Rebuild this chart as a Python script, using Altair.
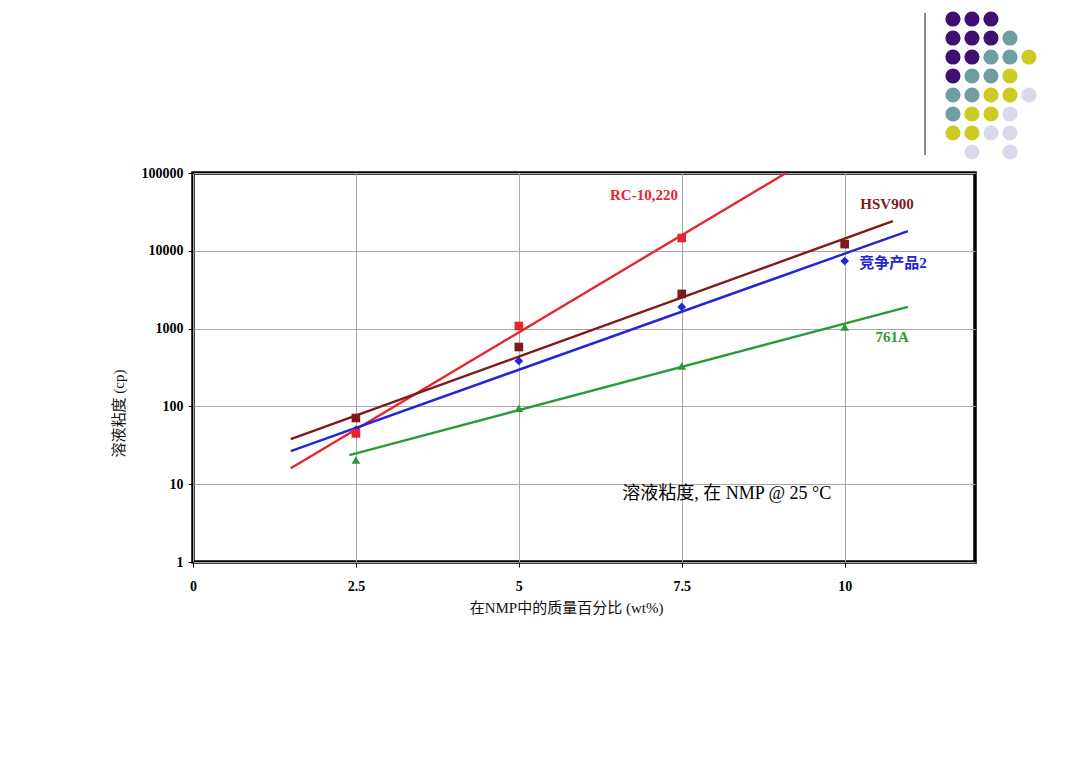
import altair as alt
import pandas as pd

# ---- data ----
x_pts = [2.5, 5, 7.5, 10]
rc_vals = [45, 1080, 14600]
hsv_vals = [71, 580, 2790, 12200]
comp_vals = [50, 384, 1900, 7400]
a761_vals = [20.5, 95, 330, 1050]

series_names = ["RC-10,220", "HSV900", "竞争产品2", "761A"]
series_colors = ["#E62630", "#7E1A1A", "#2424D8", "#2A9A34"]
series_shapes = ["square", "square", "diamond", "triangle-up"]

# fitted trend lines (start / end)
fit_x_start = [1.5, 1.5, 1.5, 2.4]
fit_x_end = [9.1, 10.74, 10.97, 10.97]
fit_y_start = [16, 38, 26.7, 23.7]
fit_y_end = [100000, 24100, 17900, 1900]

label_x = [6.92, 10.65, 10.74, 10.73]
label_y = [52100, 40000, 6970, 780]

note_text = ["溶液粘度, 在 NMP @ 25 °C"]
note_x = [8.19]
note_y = [7.5]

x_ticks = [0, 2.5, 5, 7.5, 10]
y_ticks = [1, 10, 100, 1000, 10000, 100000]

# decorative dot grid (top right)
dot_rows = [1, 1, 1,
            2, 2, 2, 2,
            3, 3, 3, 3, 3,
            4, 4, 4, 4,
            5, 5, 5, 5, 5,
            6, 6, 6, 6,
            7, 7, 7, 7,
            8, 8]
dot_cols = [1, 2, 3,
            1, 2, 3, 4,
            1, 2, 3, 4, 5,
            1, 2, 3, 4,
            1, 2, 3, 4, 5,
            1, 2, 3, 4,
            1, 2, 3, 4,
            2, 4]
dot_groups = ["P", "P", "P",
              "P", "P", "P", "T",
              "P", "P", "T", "T", "Y",
              "P", "T", "T", "Y",
              "T", "T", "Y", "Y", "L",
              "T", "Y", "Y", "L",
              "Y", "Y", "L", "L",
              "L", "L"]
dot_group_names = ["P", "T", "Y", "L"]
dot_group_colors = ["#3E1070", "#6E9E9F", "#CBCB24", "#D9D9EC"]

# ---- tables ----
pts_rows = []
for name, vals in [("竞争产品2", comp_vals), ("761A", a761_vals),
                   ("RC-10,220", rc_vals), ("HSV900", hsv_vals)]:
    for xv, yv in zip(x_pts, vals):
        pts_rows.append({"series": name, "x": xv, "y": yv})
pts_df = pd.DataFrame(pts_rows)

fit_rows = []
for i, name in enumerate(series_names):
    fit_rows.append({"series": name, "x": fit_x_start[i], "y": fit_y_start[i], "o": 0})
    fit_rows.append({"series": name, "x": fit_x_end[i], "y": fit_y_end[i], "o": 1})
fit_df = pd.DataFrame(fit_rows)

lab_df = pd.DataFrame({"series": series_names, "x": label_x, "y": label_y})
note_df = pd.DataFrame({"t": note_text, "x": note_x, "y": note_y})
dots_df = pd.DataFrame({"row": dot_rows, "col": dot_cols, "g": dot_groups})
vline_df = pd.DataFrame({"col": [-0.47], "r1": [0.68], "r2": [8.16]})

serif = "Liberation Serif, Noto Sans CJK SC"

xscale = alt.Scale(domain=[0, 12], nice=False, zero=False)
yscale = alt.Scale(type="log", domain=[1, 100000], nice=False)
cscale = alt.Scale(domain=series_names, range=series_colors)

xaxis = alt.Axis(values=x_ticks, format="~g", title="在NMP中的质量百分比 (wt%)",
                 grid=True, labelPadding=12, labelFlush=False,
                 titleX=373, titleY=45,
                 titleBaseline="middle", titleAlign="center")
yaxis = alt.Axis(values=y_ticks, format="d", title="溶液粘度 (cp)", grid=True,
                 labelPadding=5, labelFlush=False,
                 titleX=-75, titleY=240, titleAngle=270,
                 titleBaseline="middle", titleAlign="center")

lines = alt.Chart(fit_df).mark_line(strokeWidth=2.4).encode(
    x=alt.X("x:Q", scale=xscale, axis=xaxis),
    y=alt.Y("y:Q", scale=yscale, axis=yaxis),
    color=alt.Color("series:N", scale=cscale, legend=None),
    detail="series:N",
    order="o:Q",
)

points = alt.Chart(pts_df).mark_point(filled=True, opacity=1, size=75).encode(
    x=alt.X("x:Q", scale=xscale),
    y=alt.Y("y:Q", scale=yscale),
    color=alt.Color("series:N", scale=cscale, legend=None),
    shape=alt.Shape("series:N", scale=alt.Scale(domain=series_names, range=series_shapes), legend=None),
)

labels = alt.Chart(lab_df).mark_text(font=serif, fontSize=15, fontWeight="bold",
                                     align="center", baseline="middle").encode(
    x=alt.X("x:Q", scale=xscale),
    y=alt.Y("y:Q", scale=yscale),
    text="series:N",
    color=alt.Color("series:N", scale=cscale, legend=None),
)

note = alt.Chart(note_df).mark_text(font=serif, fontSize=18, color="black",
                                    align="center", baseline="middle").encode(
    x=alt.X("x:Q", scale=xscale),
    y=alt.Y("y:Q", scale=yscale),
    text="t:N",
)

main = alt.layer(lines, points, labels, note)

dxs = alt.Scale(domain=[-39, 2.16], nice=False, zero=False)
dys = alt.Scale(domain=[9.105, 29.58], reverse=True, nice=False, zero=False)

vline = alt.Chart(vline_df).mark_rule(color="#8a8a8a", strokeWidth=2).encode(
    x=alt.X("col:Q", scale=dxs, axis=None),
    y=alt.Y("r1:Q", scale=dys, axis=None),
    y2="r2:Q",
)
dots = alt.Chart(dots_df).mark_circle(size=230, opacity=1).encode(
    x=alt.X("col:Q", scale=dxs, axis=None),
    y=alt.Y("row:Q", scale=dys, axis=None),
    fill=alt.Fill("g:N", scale=alt.Scale(domain=dot_group_names, range=dot_group_colors), legend=None),
)
deco = alt.layer(vline, dots)

chart = alt.layer(main, deco).resolve_scale(
    x="independent", y="independent"
).properties(
    width=782, height=389,
    padding={"left": 185, "top": 165, "right": 97, "bottom": 194},
    autosize=alt.AutoSizeParams(type="none"),
    background="white",
).configure_view(
    stroke="black", strokeWidth=3.5
).configure_axis(
    domain=False,
    labelFont="Liberation Serif", labelFontWeight="bold", labelFontSize=14,
    labelColor="black",
    tickColor="black", tickSize=5, tickWidth=1,
    gridColor="#a8a8a8", gridWidth=1,
    titleFont=serif, titleFontWeight="normal", titleFontSize=15, titleColor="#111111",
)

chart.save("out.html", embed_options={"renderer": "svg", "actions": False})
